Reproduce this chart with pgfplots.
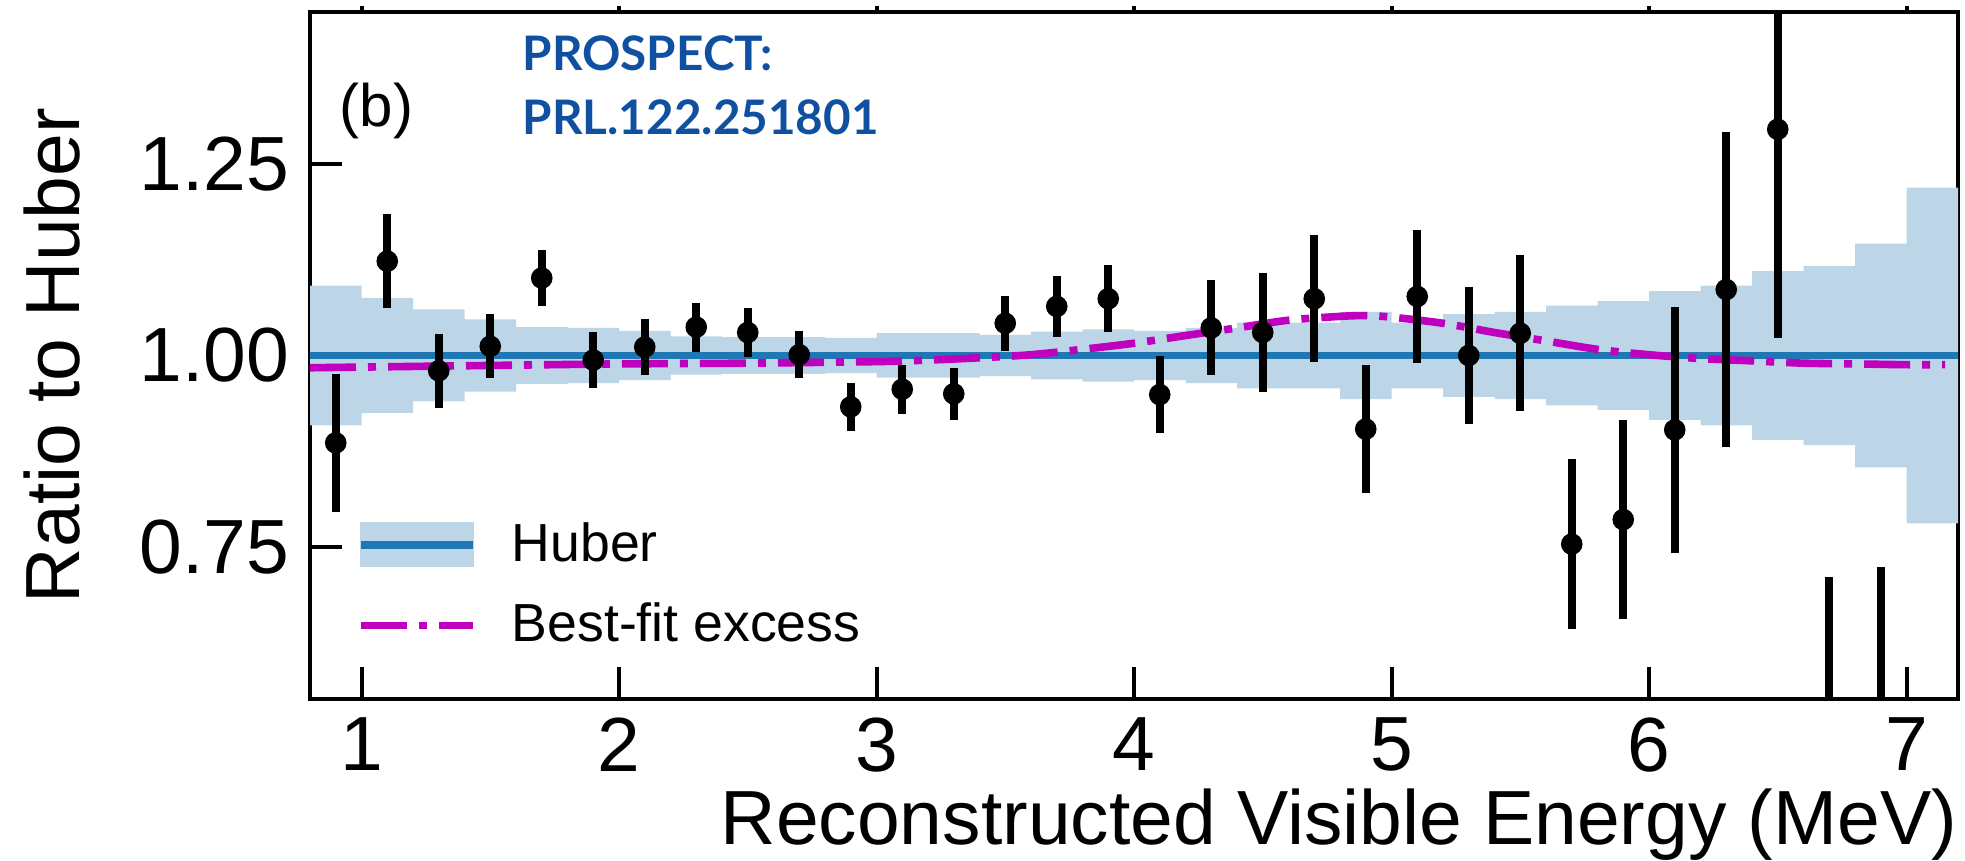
\documentclass[border=0pt]{standalone}
\usepackage{fontspec}
\setmainfont{Liberation Sans}
\newfontfamily\latofont{Lato}
\usepackage{pgfplots}
\pgfplotsset{compat=1.18}
\usepackage{pgfplotstable}
\usepgfplotslibrary{fillbetween}
\usetikzlibrary{calc}

\definecolor{hubline}{RGB}{31,119,180}
\definecolor{hubband}{RGB}{188,214,232}
\definecolor{fitmag}{RGB}{191,0,191}
\definecolor{prosblue}{RGB}{16,80,160}

\pgfplotstableread{
x hi lo
0.8 1.091 0.909
1.0 1.075 0.925
1.2 1.060 0.940
1.4 1.047 0.953
1.6 1.037 0.963
1.8 1.036 0.964
2.0 1.032 0.968
2.2 1.025 0.975
2.4 1.024 0.976
2.6 1.024 0.976
2.8 1.023 0.977
3.0 1.029 0.971
3.2 1.029 0.971
3.4 1.027 0.973
3.6 1.031 0.969
3.8 1.034 0.966
4.0 1.032 0.968
4.2 1.036 0.964
4.4 1.043 0.957
4.6 1.043 0.957
4.8 1.057 0.943
5.0 1.043 0.957
5.2 1.054 0.946
5.4 1.057 0.943
5.6 1.065 0.935
5.8 1.071 0.929
6.0 1.084 0.916
6.2 1.091 0.909
6.4 1.110 0.890
6.6 1.117 0.883
6.8 1.146 0.854
7.0 1.219 0.781
7.2 1.219 0.781
}\band

\pgfplotstableread{
x y e
0.9 0.886 0.090
1.1 1.123 0.061
1.3 0.980 0.048
1.5 1.012 0.042
1.7 1.101 0.037
1.9 0.994 0.036
2.1 1.011 0.036
2.3 1.037 0.032
2.5 1.030 0.032
2.7 1.001 0.031
2.9 0.933 0.031
3.1 0.956 0.032
3.3 0.950 0.034
3.5 1.042 0.036
3.7 1.064 0.040
3.9 1.074 0.044
4.1 0.949 0.050
4.3 1.036 0.062
4.5 1.030 0.078
4.7 1.074 0.083
4.9 0.904 0.083
5.1 1.077 0.087
5.3 1.000 0.089
5.5 1.029 0.102
5.7 0.754 0.111
5.9 0.786 0.130
6.1 0.903 0.160
6.3 1.086 0.206
6.5 1.295 0.272
6.7 0.420 0.291
6.9 0.400 0.324
7.1 1.900 0.450
}\data

\pgfplotstableread{
x y
0.8 0.984
1.5 0.987
2.0 0.989
2.5 0.990
3.0 0.992
3.2 0.994
3.4 0.997
3.6 1.001
3.8 1.008
4.0 1.016
4.2 1.026
4.4 1.036
4.6 1.046
4.8 1.051
4.9 1.052
5.0 1.050
5.2 1.042
5.4 1.030
5.6 1.019
5.8 1.008
6.0 1.001
6.2 0.996
6.4 0.993
6.6 0.990
6.8 0.989
7.0 0.988
7.15 0.988
}\fit

\begin{document}
\begin{tikzpicture}
\begin{axis}[name=main, scale only axis, width=412pt, height=171.75pt,
  at={(0,0)}, anchor=south west,
  xmin=0.8, xmax=7.2, ymin=0.552, ymax=1.448,
  xtick={1,2,3,4,5,6,7}, xticklabels={1,2,3,4,5,6,7},
  ytick={0.75,1,1.25}, yticklabels={0.75,1.00,1.25},
  /pgf/number format/assume math mode=true,
  tick align=inside, xtick pos=left, ytick pos=left,
  major tick length=8pt, minor tick num=0,
  tick style={black, line width=1pt},
  axis line style={line width=1pt},
  tick label style={font=\fontsize{19.2}{23}\selectfont},
  yticklabel style={anchor=east, inner sep=0pt, xshift=-5pt},
  xticklabel style={anchor=north, inner sep=0pt, yshift=-4.4pt},
  xlabel={Reconstructed Visible Energy (MeV)},
  ylabel={Ratio to Huber},
  label style={font=\fontsize{19.2}{23}\selectfont, inner sep=0pt},
  xlabel style={at={(axis description cs:1,-0.2125)}, anchor=base east},
  ylabel style={at={(axis description cs:-0.1396,0.5)}, anchor=base},
  legend style={draw=none, fill=none, at={(axis description cs:0.0285,0.2571)},
    anchor=north west, inner sep=0pt, outer sep=0pt, row sep=8.95pt,
    column sep=8.8pt, nodes={inner sep=0pt},
    font=\fontsize{13.4}{16}\selectfont},
  legend cell align=left,
]
\addplot[name path=up, draw=none, const plot, forget plot] table[x=x,y=hi]{\band};
\addplot[name path=dn, draw=none, const plot, forget plot] table[x=x,y=lo]{\band};
\addplot[hubband, draw=none, forget plot] fill between[of=up and dn];
\addplot[hubline, line width=1.9pt, forget plot] coordinates {(0.8,1) (7.2,1)};
\addplot[fitmag, line width=1.9pt, dash pattern=on 11.5pt off 3pt on 2pt off 3pt, smooth, forget plot] table[x=x,y=y]{\fit};
\addplot[black, only marks, mark=*, mark size=2.5pt, mark options={fill=black}, forget plot,
  error bars/.cd, y dir=both, y explicit, error mark=none,
  error bar style={line width=2pt, black}] table[x=x, y=y, y error=e]{\data};
\addlegendimage{legend image code/.code={\fill[hubband] (0pt,-5.4pt) rectangle (28pt,5.4pt); \draw[hubline, line width=1.9pt] (0pt,0pt) -- (28pt,0pt);}}
\addlegendentry{Huber}
\addlegendimage{legend image code/.code={\draw[fitmag, line width=1.9pt, dash pattern=on 11.5pt off 3pt on 2pt off 3pt] (0pt,0pt) -- (28pt,0pt);}}
\addlegendentry{Best-fit excess}
\node[anchor=base west, inner sep=0pt, font=\fontsize{15}{18}\selectfont] at (axis description cs:0.0176,0.833) {(b)};
\node[anchor=base west, inner sep=0pt, text=prosblue, font=\latofont\bfseries\fontsize{11.9}{14}\selectfont] at (axis description cs:0.1286,0.9146) {PROSPECT:};
\node[anchor=base west, inner sep=0pt, text=prosblue, font=\latofont\bfseries\fontsize{11.9}{14}\selectfont] at (axis description cs:0.1286,0.8210) {PRL.122.251801};
\end{axis}
\begin{axis}[scale only axis, width=412pt, height=171.75pt,
  at={(0,0)}, anchor=south west,
  xmin=0.8, xmax=7.2, ymin=0.552, ymax=1.448,
  axis x line*=top, axis y line=none,
  xtick={1,2,3,4,5,6,7}, xticklabels={}, ytick=\empty,
  tick align=outside, major tick length=1.5pt,
  tick style={black, line width=1pt},
  x axis line style={draw=none}]
\end{axis}
\pgfresetboundingbox
\path[use as bounding box] ($(main.south west)+(-77.5pt,-40.5pt)$) rectangle ($(main.north east)+(1.75pt,3pt)$);
\end{tikzpicture}
\end{document}
